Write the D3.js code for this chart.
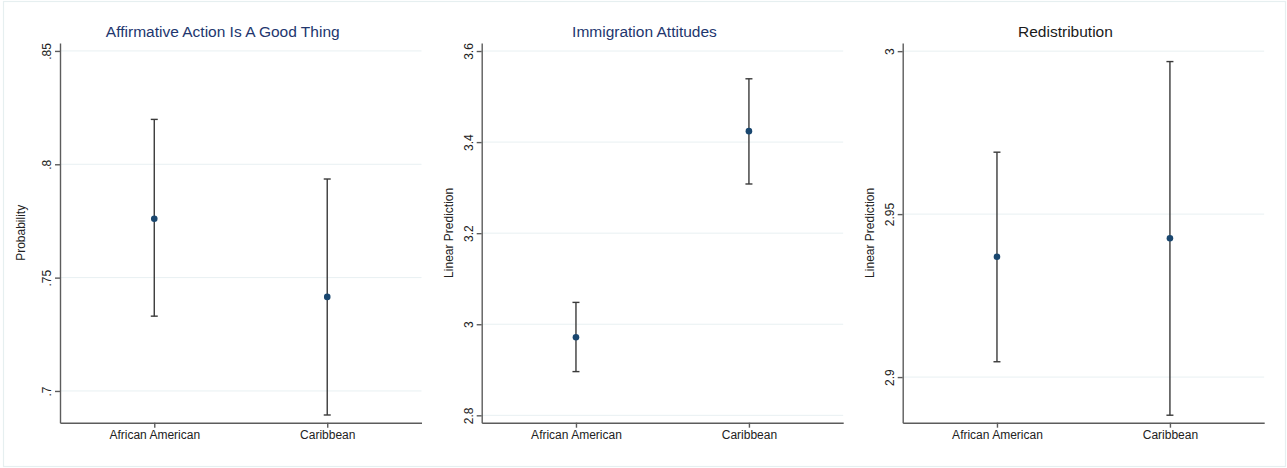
<!DOCTYPE html>
<html>
<head>
<meta charset="utf-8">
<script src="https://cdn.jsdelivr.net/npm/d3@7"></script>
<style>
  body { margin: 0; background: #fff; }
  svg text { font-family: "Liberation Sans", Arial, Helvetica, sans-serif; }
</style>
</head>
<body>
<div id="chart"></div>
<script>
const categories = ["African American", "Caribbean"];
const panelTitles = ["Affirmative Action Is A Good Thing", "Immigration Attitudes", "Redistribution"];
const yTitles = ["Probability", "Linear Prediction", "Linear Prediction"];

// margins (point estimates with 95% CI)
const affirmEstimate = [0.776, 0.7415];
const affirmLower = [0.733, 0.6894];
const affirmUpper = [0.8198, 0.7935];

const immigEstimate = [2.9715, 3.424];
const immigLower = [2.896, 3.308];
const immigUpper = [3.048, 3.539];

const redistEstimate = [2.9369, 2.9426];
const redistLower = [2.9047, 2.8883];
const redistUpper = [2.969, 2.9968];

const affirmTicks = [0.7, 0.75, 0.8, 0.85];
const affirmTickLabels = [".7", ".75", ".8", ".85"];
const immigTicks = [2.8, 3, 3.2, 3.4, 3.6];
const immigTickLabels = ["2.8", "3", "3.2", "3.4", "3.6"];
const redistTicks = [2.9, 2.95, 3];
const redistTickLabels = ["2.9", "2.95", "3"];

const affirmRange = [0.686, 0.8535];
const immigRange = [2.7838, 3.6176];
const redistRange = [2.886, 3.0025];

const width = 1287, height = 468;
const plotTop = 43, plotBottom = 422.7, plotWidth = 361.5;
const plotLefts = [60, 481.7, 902.7];
const yTitleOffsets = [35, 28.5, 29];
const titleColors = ["#22366e", "#22366e", "#1a1a1a"];

const panels = [
    {est: affirmEstimate, lo: affirmLower, hi: affirmUpper, ticks: affirmTicks, labels: affirmTickLabels, range: affirmRange},
    {est: immigEstimate, lo: immigLower, hi: immigUpper, ticks: immigTicks, labels: immigTickLabels, range: immigRange},
    {est: redistEstimate, lo: redistLower, hi: redistUpper, ticks: redistTicks, labels: redistTickLabels, range: redistRange}
];

const svg = d3.select("#chart").append("svg")
    .attr("width", width)
    .attr("height", height);

// outer frame of the combined graph
svg.append("rect")
    .attr("x", 3.5).attr("y", 1.5)
    .attr("width", 1282).attr("height", 465)
    .attr("fill", "none")
    .attr("stroke", "#e6eff0")
    .attr("stroke-width", 1.2);

panels.forEach(function (p, i) {
    const left = plotLefts[i];
    const g = svg.append("g").attr("class", "panel");

    const x = d3.scalePoint()
        .domain(categories)
        .range([left, left + plotWidth])
        .padding(0.545);

    const y = d3.scaleLinear()
        .domain(p.range)
        .range([plotBottom, plotTop]);

    // gridlines
    g.append("g").selectAll("line")
        .data(p.ticks)
        .enter().append("line")
        .attr("x1", left).attr("x2", left + plotWidth)
        .attr("y1", function (d) { return y(d); })
        .attr("y2", function (d) { return y(d); })
        .attr("stroke", "#e8f0f2")
        .attr("stroke-width", 1);

    // y axis
    const yAxis = g.append("g")
        .attr("transform", "translate(" + left + ",0)")
        .call(d3.axisLeft(y)
            .tickValues(p.ticks)
            .tickFormat(function (d, k) { return p.labels[k]; })
            .tickSize(5)
            .tickSizeOuter(0));
    yAxis.selectAll("text")
        .attr("x", 0).attr("y", -9).attr("dy", null)
        .attr("transform", "rotate(-90)")
        .attr("text-anchor", "middle")
        .attr("font-size", 12)
        .attr("fill", "#222");

    // x axis
    const xAxis = g.append("g")
        .attr("transform", "translate(0," + plotBottom + ")")
        .call(d3.axisBottom(x).tickSize(5).tickSizeOuter(0));
    xAxis.selectAll("text")
        .attr("y", 16.3).attr("dy", null)
        .attr("font-size", 12)
        .attr("fill", "#222");

    g.selectAll(".domain, .tick line")
        .attr("stroke", "#5c5c5c")
        .attr("stroke-width", 1.4);

    // y title
    g.append("text")
        .attr("transform", "translate(" + (left - yTitleOffsets[i]) + "," + ((plotTop + plotBottom) / 2) + ") rotate(-90)")
        .attr("text-anchor", "middle")
        .attr("font-size", 12)
        .attr("fill", "#222")
        .text(yTitles[i]);

    // panel title
    g.append("text")
        .attr("x", left + plotWidth / 2 - 18)
        .attr("y", 37)
        .attr("text-anchor", "middle")
        .attr("font-size", 15.5)
        .attr("fill", titleColors[i])
        .text(panelTitles[i]);

    // confidence intervals
    const ci = g.append("g").selectAll("g")
        .data(categories)
        .enter().append("g")
        .attr("stroke", "#3a3a3a")
        .attr("stroke-width", 1.4);
    ci.append("line")
        .attr("x1", function (d) { return x(d); })
        .attr("x2", function (d) { return x(d); })
        .attr("y1", function (d, k) { return y(p.lo[k]); })
        .attr("y2", function (d, k) { return y(p.hi[k]); });
    ci.append("line")
        .attr("x1", function (d) { return x(d) - 3.5; })
        .attr("x2", function (d) { return x(d) + 3.5; })
        .attr("y1", function (d, k) { return y(p.hi[k]); })
        .attr("y2", function (d, k) { return y(p.hi[k]); });
    ci.append("line")
        .attr("x1", function (d) { return x(d) - 3.5; })
        .attr("x2", function (d) { return x(d) + 3.5; })
        .attr("y1", function (d, k) { return y(p.lo[k]); })
        .attr("y2", function (d, k) { return y(p.lo[k]); });

    // point estimates
    g.append("g").selectAll("circle")
        .data(categories)
        .enter().append("circle")
        .attr("cx", function (d) { return x(d); })
        .attr("cy", function (d, k) { return y(p.est[k]); })
        .attr("r", 3.3)
        .attr("fill", "#1a476f");
});
</script>
</body>
</html>
